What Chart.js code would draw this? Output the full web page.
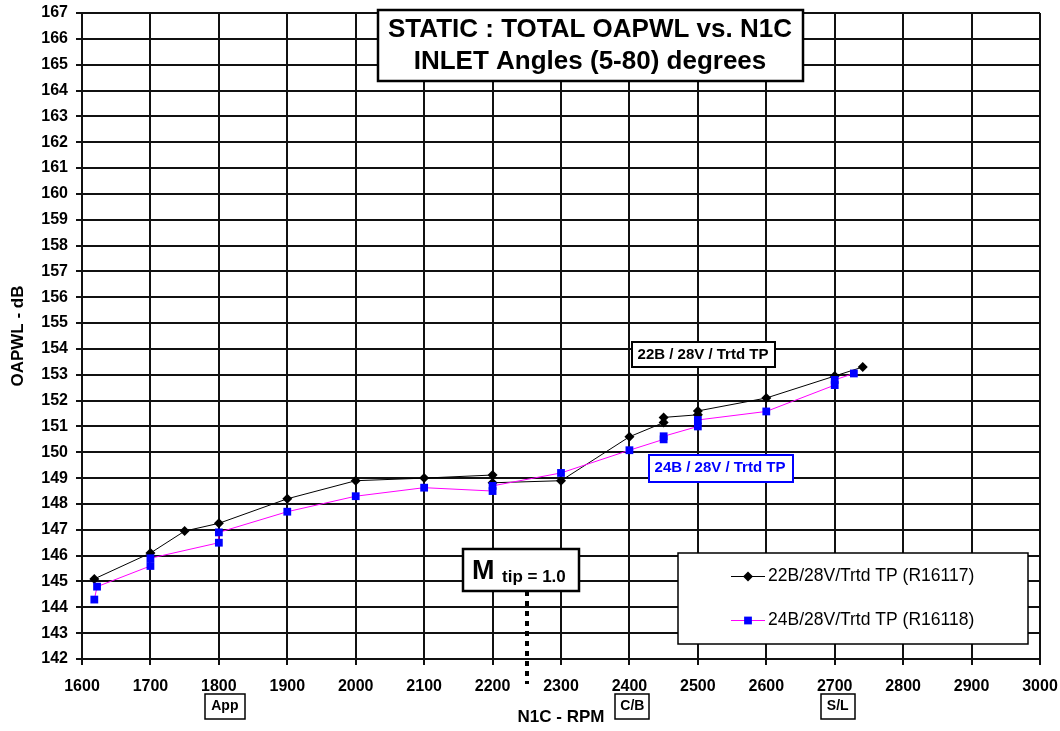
<!DOCTYPE html>
<html>
<head>
<meta charset="utf-8">
<title>STATIC : TOTAL OAPWL vs. N1C</title>
<script src="https://cdn.jsdelivr.net/npm/chart.js@4.4.1/dist/chart.umd.min.js"></script>
<style>
  html, body { margin: 0; padding: 0; background: #fff; }
  #wrap { width: 1060px; height: 731px; }
</style>
</head>
<body>
<div id="wrap"><canvas id="chart" width="1060" height="731"></canvas></div>
<script>
// 22B/28V/Trtd TP (R16117)
const rpm22B = [1618, 1700, 1750, 1800, 1900, 2000, 2100, 2200, 2200, 2300, 2400, 2450, 2450, 2500, 2500, 2600, 2700, 2741];
const db22B = [145.1, 146.1, 146.95, 147.25, 148.2, 148.9, 149.0, 149.12, 148.82, 148.9, 150.6, 151.15, 151.35, 151.45, 151.6, 152.1, 152.95, 153.3];

// 24B/28V/Trtd TP (R16118)
const rpm24B = [1618, 1622, 1700, 1700, 1800, 1800, 1900, 2000, 2100, 2200, 2200, 2300, 2400, 2450, 2450, 2500, 2500, 2600, 2700, 2700, 2728];
const db24B = [144.3, 144.8, 145.6, 145.9, 146.5, 146.9, 147.7, 148.3, 148.63, 148.5, 148.7, 149.2, 150.08, 150.5, 150.62, 151.0, 151.25, 151.58, 152.6, 152.8, 153.05];

const xTickValues = [1600, 1700, 1800, 1900, 2000, 2100, 2200, 2300, 2400, 2500, 2600, 2700, 2800, 2900, 3000];
const yTickValues = [142, 143, 144, 145, 146, 147, 148, 149, 150, 151, 152, 153, 154, 155, 156, 157, 158, 159, 160, 161, 162, 163, 164, 165, 166, 167];

const flagLabels = ["App", "C/B", "S/L"];
const flagRpm = [1800, 2400, 2700];
const mtipRpm = 2250;

const FONT = "'Liberation Sans', Arial, Helvetica, sans-serif";

function toPoints(xs, ys) {
  return xs.map((x, i) => ({ x: x, y: ys[i] }));
}

function box(ctx, l, t, w, h, color, lw) {
  ctx.fillStyle = "#fff";
  ctx.fillRect(l, t, w, h);
  ctx.strokeStyle = color;
  ctx.lineWidth = lw;
  ctx.strokeRect(l, t, w, h);
}

const annotations = {
  id: "annotations",
  afterDraw(chart) {
    const ctx = chart.ctx;
    const xs = chart.scales.x;
    ctx.save();

    // title
    box(ctx, 378, 10, 425, 71, "#000", 2.5);
    ctx.fillStyle = "#000";
    ctx.textAlign = "center";
    ctx.textBaseline = "middle";
    ctx.font = "bold 26px " + FONT;
    ctx.fillText("STATIC : TOTAL OAPWL vs. N1C", 590, 30);
    ctx.fillText("INLET Angles (5-80) degrees", 590, 62);

    // series labels
    box(ctx, 632, 342, 143, 25, "#000", 2);
    ctx.font = "bold 15px " + FONT;
    ctx.fillStyle = "#000";
    ctx.fillText("22B / 28V / Trtd TP", 703, 355);
    box(ctx, 649, 455, 144, 27, "#0000ff", 2);
    ctx.fillStyle = "#0000ff";
    ctx.fillText("24B / 28V / Trtd TP", 720, 468);

    // M tip = 1.0 marker
    const mx = Math.round(xs.getPixelForValue(mtipRpm));
    ctx.strokeStyle = "#000";
    ctx.lineWidth = 4;
    ctx.setLineDash([5, 5]);
    ctx.beginPath();
    ctx.moveTo(mx, 591);
    ctx.lineTo(mx, 684);
    ctx.stroke();
    ctx.setLineDash([]);
    box(ctx, 463, 549, 116, 42, "#000", 2.5);
    ctx.fillStyle = "#000";
    ctx.textAlign = "left";
    ctx.textBaseline = "alphabetic";
    ctx.font = "bold 27px " + FONT;
    ctx.fillText("M", 472, 579);
    ctx.font = "bold 17px " + FONT;
    ctx.fillText("tip = 1.0", 502, 582);

    // flight condition flags under the axis
    ctx.font = "bold 14px " + FONT;
    ctx.textAlign = "center";
    ctx.textBaseline = "middle";
    flagLabels.forEach((lab, i) => {
      const cx = xs.getPixelForValue(flagRpm[i]) + (i === 0 ? 6 : 3);
      const w = i === 0 ? 40 : 34;
      box(ctx, Math.round(cx - w / 2), 694, w, 25, "#000", 1.5);
      ctx.fillStyle = "#000";
      ctx.fillText(lab, cx, 706);
    });

    // legend
    box(ctx, 678, 553, 350, 91, "#000", 1.5);
    const sets = chart.data.datasets;
    const rowY = [576, 620];
    ctx.font = "17.5px " + FONT;
    ctx.textAlign = "left";
    ctx.textBaseline = "middle";
    sets.slice().sort((a, b) => a.legendRow - b.legendRow).forEach((ds, i) => {
      const y = rowY[i];
      ctx.strokeStyle = ds.borderColor;
      ctx.lineWidth = 1;
      ctx.beginPath();
      ctx.moveTo(731, y + 0.5);
      ctx.lineTo(765, y + 0.5);
      ctx.stroke();
      ctx.fillStyle = ds.pointBackgroundColor;
      Chart.helpers.drawPoint(ctx, {
        pointStyle: ds.pointStyle,
        radius: ds.pointRadius,
        rotation: 0,
        borderWidth: 0
      }, 748, y + 0.5);
      ctx.fillStyle = "#000";
      ctx.fillText(ds.label, 768, y);
    });

    ctx.restore();
  }
};

const plainTick = (v) => String(v);

const ctx = document.getElementById("chart").getContext("2d");
const chart = new Chart(ctx, {
  type: "line",
  data: {
    datasets: [
      {
        label: "24B/28V/Trtd TP (R16118)",
        legendRow: 1,
        data: toPoints(rpm24B, db24B),
        borderColor: "#ff00ff",
        borderWidth: 1,
        pointStyle: "rect",
        pointRadius: 5.5,
        pointBackgroundColor: "#0000ff",
        pointBorderColor: "#0000ff",
        pointBorderWidth: 0,
        tension: 0,
        order: 0
      },
      {
        label: "22B/28V/Trtd TP (R16117)",
        legendRow: 0,
        data: toPoints(rpm22B, db22B),
        borderColor: "#000000",
        borderWidth: 1,
        pointStyle: "rectRot",
        pointRadius: 5,
        pointBackgroundColor: "#000000",
        pointBorderColor: "#000000",
        pointBorderWidth: 0,
        tension: 0,
        order: 1
      }
    ]
  },
  options: {
    responsive: false,
    animation: false,
    events: [],
    layout: { padding: { left: 0, top: 13, right: 20, bottom: 0 } },
    plugins: {
      legend: { display: false },
      tooltip: { enabled: false }
    },
    scales: {
      x: {
        type: "linear",
        min: 1600,
        max: 3000,
        afterBuildTicks: (s) => { s.ticks = xTickValues.map((v) => ({ value: v })); },
        afterFit: (s) => {
          s.height = 72;
          s.paddingLeft = 0;
          s.paddingRight = 0;
        },
        grid: { color: "#111", lineWidth: 2, tickLength: 6 },
        border: { color: "#111", width: 2 },
        ticks: {
          color: "#000",
          autoSkip: false,
          maxRotation: 0,
          padding: 12,
          callback: plainTick,
          font: { family: FONT, size: 16, weight: "bold" }
        },
        title: {
          display: true,
          text: "N1C - RPM",
          color: "#000",
          font: { family: FONT, size: 17, weight: "bold" },
          padding: { top: 0, bottom: 3 }
        }
      },
      y: {
        type: "linear",
        min: 142,
        max: 167,
        afterBuildTicks: (s) => { s.ticks = yTickValues.map((v) => ({ value: v })); },
        afterFit: (s) => {
          s.width = 82;
          s.paddingTop = 0;
          s.paddingBottom = 0;
        },
        grid: { color: "#111", lineWidth: 2, tickLength: 6 },
        border: { color: "#111", width: 2 },
        ticks: {
          color: "#000",
          autoSkip: false,
          padding: 8,
          callback: plainTick,
          font: { family: FONT, size: 16, weight: "bold" }
        },
        title: {
          display: true,
          text: "OAPWL - dB",
          color: "#000",
          font: { family: FONT, size: 17, weight: "bold" },
          padding: { top: 8, bottom: 0 }
        }
      }
    }
  },
  plugins: [annotations]
});
</script>
</body>
</html>
